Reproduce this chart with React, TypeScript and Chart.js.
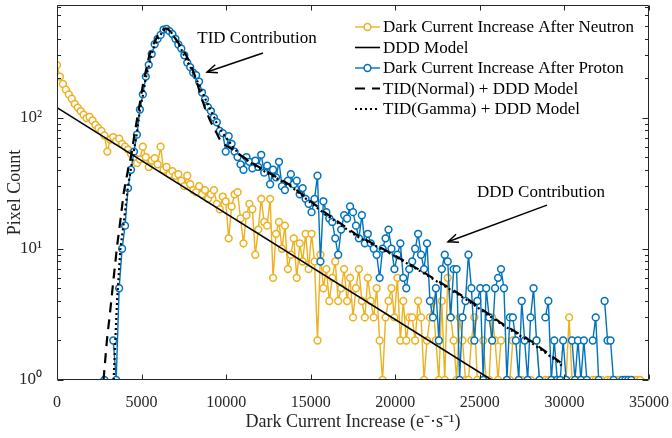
import React, { useEffect, useRef } from "react";
import { Chart, registerables } from "chart.js";

Chart.register(...registerables);

// ---------- data ----------
const BIN_WIDTH = 175;
const NEUTRON_START_BIN = 0;
const neutronCounts: (number | null)[] = [
  251, 205, 180, 163, 150, 139, 127, 119, 112, 105,
  99, 101, 95, 88, 83, 79, 73, 55, 68, 71,
  66, 69, 63, 60, 57, 53, 50, 45, 48, 60,
  50, 42, 47, 49, 44, 60, 40, 42, 37, 39,
  36, 37, 33, 30, 36, 31, 28, 27, 30, 26,
  28, 24, 26, 28, 22, 20, 25, 23, 12, 21,
  26, 27, 17, 11, 18, 22, 20, 9, 14, 24,
  16, 15, 24, 6, 13, 16, 10, 15, 7, 9,
  12, 6, 11, 8, 13, 7, 13, 8, 2, 9,
  5, 7, 4, 6, 8, 4, 5, 7, 4, 6,
  3, 5, 7, 4, 3, 6, 4, 3, 5, 2,
  1, 3, 4, 5, 3, 6, 2, 4, 2, 3,
  3, 2, 4, 3, 1, 2, 3, 4, 2, 1,
  4, 1, 6, 3, 2, 1, 3, 2, 1, 1,
  2, 3, 1, null, 2, 1, 1, 3, 2, 1,
  2, null, 1, 1, 2, null, 1, 1, null, 1,
  1, null, 2, 1, null, 1, 1, null, 1, 1,
  1, null, 1, 3, 1, null, 1, null, 1, 1,
  null, 1, 1, null, 1, null, 1, 1, null, 1,
  1, null, 1, 1, null, 1, 1, 1,
];

const PROTON_START_BIN = 16;
const protonCounts: (number | null)[] = [
  1, null, null, 2,
  1, 5, 10, 15, 29, 40, 55, 74, 115, 150,
  205, 252, 305, 362, 398, 426, 468, 474, 455, 432,
  398, 360, 335, 298, 262, 242, 220, 210, 188, 155,
  138, 120, 112, 100, 92, 79, 76, 55, 72, 63,
  55, 50, 44, 40, 50, 46, 41, 47, 42, 52,
  38, 43, 31, 40, 35, 46, 30, 28, 33, 37,
  31, 33, 26, 29, 24, 22, 19, 24, 36, 8,
  23, 19, 17, 16, 12, 9, 14, 18, 17, 21,
  19, 15, 12, 18, 11, 13, 11, 10, 9, 6,
  10, 12, 14, 10, 7, 9, 11, 6, 5, 7,
  8, 10, 13, 9, 7, 11, 4, 3, 5, 2,
  7, 9, 8, 3, 7, 7, 1, 3, 4, 9,
  5, 2, 4, 5, 1, 5, 3, 2, 5, 6,
  7, 5, 1, 3, 3, 2, 1, 4, 2, 1,
  3, 5, 2, 1, null, 3, 4, 1, 2, 1,
  1, 2, 1, null, 2, 1, 2, 1, 2, 1,
  null, 2, 3, 1, null, 4, 2, 2, 1, null,
  null, 1, 1, 1, 1,
];

const dddModelX = [0, 25700];
const dddModelY = [119, 1];

const tidNormalX = [2750, 2950, 3150, 3350, 3550, 3750, 3950, 4200, 4400, 4550, 4750, 4950, 5100, 5300, 5450, 5650, 5850, 6000, 6200, 6400, 6550, 6750, 7000, 7300, 7600, 7900, 8200, 8450, 8750, 9050, 9350, 9650, 10000, 10400, 10800, 11800, 13800, 15700, 17700, 19700, 21600, 24200, 26200, 28100, 29700, 29900];
const tidNormalY = [1, 2, 3.4, 6, 10.4, 16.5, 27, 40, 52, 70, 100, 140, 185, 240, 295, 350, 395, 430, 460, 478, 472, 445, 400, 350, 305, 255, 200, 155, 118, 95, 80, 67, 61, 57, 52, 43, 30.5, 19.5, 12.8, 9.3, 6.7, 4.2, 2.75, 1.95, 1.38, 1.28];

const tidGammaX = [3350, 3550, 3750, 3950, 4200, 4400, 4550, 4750, 4900, 5100, 5250, 5450, 5600, 5800, 6000, 6150, 6350, 6500, 6650, 6800, 7000, 7200, 7350, 7500, 7700, 7900, 8050, 8200, 8400, 8550, 8750, 8950, 9100, 9300, 9450, 9650, 10000, 10400, 10800, 11800, 13800, 15700, 17700, 19700, 21600, 24200, 26200, 28100, 29700, 29900];
const tidGammaY = [1, 4, 10, 16, 30, 43, 56, 80, 115, 152, 200, 252, 305, 360, 405, 432, 468, 478, 465, 435, 398, 360, 330, 300, 268, 240, 218, 200, 178, 160, 140, 124, 112, 100, 90, 81, 70, 60, 52, 42, 30, 19, 12.5, 9.2, 6.6, 4.1, 2.7, 1.9, 1.35, 1.25];

const seriesLabels = [
  "Dark Current Increase After Neutron",
  "DDD Model",
  "Dark Current Increase After Proton",
  "TID(Normal) + DDD Model",
  "TID(Gamma) + DDD Model",
];

const xTicks = [0, 5000, 10000, 15000, 20000, 25000, 30000, 35000];
const yTicks = [1, 10, 100];
const yTickLabels = ["10\u2070", "10\u00B9", "10\u00B2"];
const X_MIN = 0;
const X_MAX = 35000;
const Y_MIN = 1;
const Y_MAX = 720;

const xTitle = "Dark Current Increase (e\u207B\u00B7s\u207B\u00B9)";
const yTitle = "Pixel Count";

const annotationLabels = ["TID Contribution", "DDD Contribution"];
const annotationX = [11824, 28614];
const annotationY = [403, 26.6];
const arrowTailX = [12179, 28969];
const arrowTailY = [310, 21.5];
const arrowHeadX = [8868, 23116];
const arrowHeadY = [222, 11.3];

// ---------- style ----------
const FONT = "'Liberation Serif', 'Times New Roman', serif";
const AXIS_COLOR = "#262626";
const ORANGE = "#EDB120";
const BLUE = "#0072BD";

const toPoints = (start: number, counts: (number | null)[]) =>
  counts.map((c, i) => ({ x: (start + i) * BIN_WIDTH, y: c }));
const zip = (xs: number[], ys: number[]) => xs.map((x, i) => ({ x, y: ys[i] }));

const framePlugin = {
  id: "frame",
  afterDatasetsDraw(chart: any) {
    const { ctx, chartArea: a, scales } = chart;
    const xs = scales.x;
    const ys = scales.y;
    ctx.save();
    ctx.strokeStyle = AXIS_COLOR;
    ctx.lineWidth = 1;
    const L = Math.round(a.left) + 0.5;
    const R = Math.round(a.right) - 0.5;
    const T = Math.round(a.top) + 0.5;
    const B = Math.round(a.bottom) - 0.5;
    ctx.beginPath();
    ctx.rect(L, T, R - L, B - T);
    ctx.stroke();
    ctx.beginPath();
    for (const v of xTicks) {
      const px = Math.round(xs.getPixelForValue(v)) + 0.5;
      ctx.moveTo(px, B);
      ctx.lineTo(px, B - 5);
      ctx.moveTo(px, T);
      ctx.lineTo(px, T + 5);
    }
    for (const d of yTicks) {
      for (let m = 1; m <= 9; m++) {
        const v = d * m;
        if (v < Y_MIN || v > Y_MAX) continue;
        const py = Math.round(ys.getPixelForValue(v)) + 0.5;
        const len = m === 1 ? 6 : 3.5;
        ctx.moveTo(L, py);
        ctx.lineTo(L + len, py);
        ctx.moveTo(R, py);
        ctx.lineTo(R - len, py);
      }
    }
    ctx.stroke();
    ctx.restore();
  },
};

const annotationPlugin = {
  id: "annot",
  afterDraw(chart: any) {
    const { ctx, scales } = chart;
    const xs = scales.x;
    const ys = scales.y;
    ctx.save();
    ctx.fillStyle = "#000";
    ctx.strokeStyle = "#000";
    ctx.font = `17px ${FONT}`;
    ctx.textAlign = "center";
    ctx.textBaseline = "middle";
    for (let i = 0; i < annotationLabels.length; i++) {
      ctx.fillText(annotationLabels[i], xs.getPixelForValue(annotationX[i]), ys.getPixelForValue(annotationY[i]));
      const x1 = xs.getPixelForValue(arrowTailX[i]);
      const y1 = ys.getPixelForValue(arrowTailY[i]);
      const x2 = xs.getPixelForValue(arrowHeadX[i]);
      const y2 = ys.getPixelForValue(arrowHeadY[i]);
      ctx.lineWidth = 1.5;
      ctx.beginPath();
      ctx.moveTo(x1, y1);
      ctx.lineTo(x2, y2);
      ctx.stroke();
      const ang = Math.atan2(y2 - y1, x2 - x1);
      const hl = 11;
      const spread = 0.4;
      ctx.beginPath();
      ctx.moveTo(x2 - hl * Math.cos(ang - spread), y2 - hl * Math.sin(ang - spread));
      ctx.lineTo(x2, y2);
      ctx.lineTo(x2 - hl * Math.cos(ang + spread), y2 - hl * Math.sin(ang + spread));
      ctx.stroke();
    }
    ctx.restore();
  },
};

const legendPlugin = {
  id: "customLegend",
  afterDraw(chart: any) {
    const { ctx, chartArea: a } = chart;
    const x0 = a.right - 294;
    const y0 = a.top + 22;
    const step = 20.5;
    ctx.save();
    ctx.font = `17px ${FONT}`;
    ctx.textBaseline = "middle";
    ctx.textAlign = "left";
    chart.data.datasets.forEach((ds: any, i: number) => {
      const y = y0 + i * step;
      ctx.strokeStyle = ds.borderColor;
      ctx.lineWidth = ds.borderWidth;
      ctx.setLineDash(ds.borderDash || []);
      ctx.beginPath();
      ctx.moveTo(x0, y);
      ctx.lineTo(x0 + 25, y);
      ctx.stroke();
      ctx.setLineDash([]);
      if (ds.pointRadius > 0) {
        ctx.beginPath();
        ctx.arc(x0 + 12.5, y, ds.pointRadius, 0, Math.PI * 2);
        ctx.fillStyle = "#fff";
        ctx.fill();
        ctx.lineWidth = ds.pointBorderWidth;
        ctx.stroke();
      }
      ctx.fillStyle = "#000";
      ctx.fillText(ds.label, x0 + 28, y + 1);
    });
    ctx.restore();
  },
};

export default function App() {
  const ref = useRef<HTMLCanvasElement>(null);
  useEffect(() => {
    const canvas = ref.current;
    if (!canvas) return;
    const marker = {
      pointRadius: 3.4,
      pointBorderWidth: 1.5,
      pointBackgroundColor: "#ffffff",
      pointHoverRadius: 3.4,
    };
    const chart = new Chart(canvas, {
      type: "line",
      data: {
        datasets: [
          {
            label: seriesLabels[0],
            data: toPoints(NEUTRON_START_BIN, neutronCounts),
            borderColor: ORANGE,
            pointBorderColor: ORANGE,
            borderWidth: 1.4,
            spanGaps: false,
            order: 5,
            ...marker,
          },
          {
            label: seriesLabels[1],
            data: zip(dddModelX, dddModelY),
            borderColor: "#000",
            borderWidth: 1.6,
            pointRadius: 0,
            order: 3,
          },
          {
            label: seriesLabels[2],
            data: toPoints(PROTON_START_BIN, protonCounts),
            borderColor: BLUE,
            pointBorderColor: BLUE,
            borderWidth: 1.4,
            spanGaps: false,
            order: 4,
            ...marker,
          },
          {
            label: seriesLabels[3],
            data: zip(tidNormalX, tidNormalY),
            borderColor: "#000",
            borderWidth: 2.2,
            borderDash: [10, 7],
            pointRadius: 0,
            order: 2,
          },
          {
            label: seriesLabels[4],
            data: zip(tidGammaX, tidGammaY),
            borderColor: "#000",
            borderWidth: 2.2,
            borderDash: [2, 3],
            pointRadius: 0,
            order: 1,
          },
        ] as any,
      },
      options: {
        responsive: false,
        animation: false,
        devicePixelRatio: 1,
        layout: { padding: { left: 0, right: 23, top: 5, bottom: 0 } },
        plugins: { legend: { display: false }, tooltip: { enabled: false } },
        elements: { line: { tension: 0 } },
        scales: {
          x: {
            type: "linear",
            min: X_MIN,
            max: X_MAX,
            afterBuildTicks: (s: any) => {
              s.ticks = xTicks.map((v) => ({ value: v }));
            },
            afterFit: (s: any) => {
              s.height = 58;
              s.paddingLeft = 0;
              s.paddingRight = 0;
            },
            ticks: {
              autoSkip: false,
              maxRotation: 0,
              padding: 5,
              color: AXIS_COLOR,
              font: { family: FONT, size: 16 },
              callback: (v: any) => String(v),
            },
            grid: { display: false },
            border: { display: false },
            title: {
              display: true,
              text: xTitle,
              color: AXIS_COLOR,
              font: { family: FONT, size: 18 },
              padding: { top: 0, bottom: 5 },
            },
          },
          y: {
            type: "logarithmic",
            min: Y_MIN,
            max: Y_MAX,
            afterBuildTicks: (s: any) => {
              s.ticks = yTicks.map((v) => ({ value: v, major: true }));
            },
            afterFit: (s: any) => {
              s.width = 57;
              s.paddingTop = 0;
              s.paddingBottom = 0;
            },
            ticks: {
              autoSkip: false,
              padding: 7,
              color: AXIS_COLOR,
              font: { family: FONT, size: 17 },
              callback: (v: any) => {
                const k = yTicks.indexOf(Number(v));
                return k >= 0 ? yTickLabels[k] : "";
              },
            },
            grid: { display: false },
            border: { display: false },
            title: {
              display: true,
              text: yTitle,
              color: AXIS_COLOR,
              font: { family: FONT, size: 18 },
              padding: { top: 4, bottom: 0 },
            },
          },
        },
      } as any,
      plugins: [framePlugin, annotationPlugin, legendPlugin],
    });
    return () => chart.destroy();
  }, []);
  return (
    <div style={{ position: "fixed", left: 0, top: 0, width: 672, height: 438, background: "#fff" }}>
      <canvas ref={ref} width={672} height={438} style={{ display: "block", width: 672, height: 438 }} />
    </div>
  );
}
